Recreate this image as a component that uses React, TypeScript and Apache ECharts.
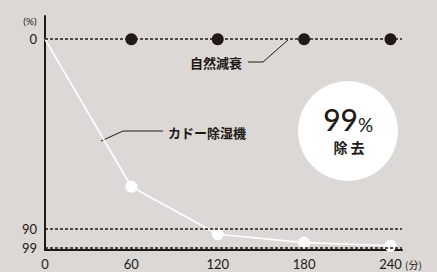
import React, { useEffect, useRef } from "react";
import * as echarts from "echarts";

const X_VALUES = [0, 60, 120, 180, 240];
const CADO_VALUES = [0, 70, 92.5, 96.5, 98];
const NATURAL_X = [60, 120, 180, 240];
const NATURAL_VALUES = [0, 0, 0, 0];
const X_TICKS = [0, 60, 120, 180, 240];
const Y_TICKS = [0, 90, 99];
const GUIDE_LEVELS = [0, 90, 99];
const NATURAL_NAME = "自然減衰";
const CADO_NAME = "カドー除湿機";

const DARK = "#231815";
const BG = "#dbd8d5";
const FONT = 'Lato, "Noto Sans CJK JP", sans-serif';
const JP = '"Noto Sans CJK JP", sans-serif';

export default function App() {
  const ref = useRef<HTMLDivElement>(null);
  useEffect(() => {
    if (!ref.current) return;
    const chart = echarts.init(ref.current, null, { renderer: "svg" });
    const cadoData = X_VALUES.map((x, i) =>
      i === 0 ? { value: [x, CADO_VALUES[i]], symbol: "none" } : { value: [x, CADO_VALUES[i]] }
    );
    const naturalData = NATURAL_X.map((x, i) => [x, NATURAL_VALUES[i]]);
    chart.setOption({
      animation: false,
      backgroundColor: BG,
      grid: { left: 45, right: 35, top: 16, bottom: 22, containLabel: false },
      xAxis: {
        type: "value",
        min: 0,
        max: 248,
        interval: 60,
        axisLine: { show: true, onZero: false, lineStyle: { color: DARK, width: 2 } },
        axisTick: { show: false },
        splitLine: { show: false },
        axisLabel: {
          customValues: X_TICKS,
          color: DARK,
          fontSize: 13,
          margin: 7,
          fontFamily: FONT,
        },
      },
      yAxis: {
        type: "value",
        inverse: true,
        min: -11,
        max: 100,
        axisLine: { show: true, onZero: false, lineStyle: { color: DARK, width: 2 } },
        axisTick: { show: false },
        splitLine: { show: false },
        axisLabel: {
          customValues: Y_TICKS,
          color: DARK,
          fontSize: 13,
          margin: 8,
          fontFamily: FONT,
        },
      },
      series: [
        {
          type: "line",
          name: "guides",
          data: [],
          z: 1,
          markLine: {
            silent: true,
            symbol: "none",
            label: { show: false },
            lineStyle: { color: DARK, width: 1.6, type: [3, 2], opacity: 1 },
            data: GUIDE_LEVELS.map((v) => ({ yAxis: v })),
          },
        },
        {
          type: "line",
          name: CADO_NAME,
          data: cadoData,
          z: 3,
          symbol: "circle",
          symbolSize: 12,
          lineStyle: { color: "#ffffff", width: 1.6 },
          itemStyle: { color: "#ffffff", borderColor: "#ffffff", borderWidth: 0, opacity: 1 },
        },
        {
          type: "scatter",
          name: NATURAL_NAME,
          data: naturalData,
          z: 4,
          symbolSize: 12,
          itemStyle: { color: DARK, opacity: 1 },
        },
      ],
      graphic: [
        {
          type: "text",
          x: 30,
          y: 21,
          style: { text: "(%)", fill: DARK, font: `10px ${FONT}`, align: "center", verticalAlign: "middle" },
        },
        {
          type: "text",
          x: 405,
          y: 264,
          style: { text: "(分)", fill: DARK, font: `10px ${JP}`, align: "left", verticalAlign: "middle" },
        },
        {
          type: "text",
          x: 190,
          y: 62.5,
          style: { text: NATURAL_NAME, fill: DARK, font: `bold 13px ${JP}`, align: "left", verticalAlign: "middle" },
        },
        {
          type: "polyline",
          shape: { points: [[248, 62], [263, 62], [288, 40]] },
          style: { stroke: DARK, lineWidth: 1, fill: null },
        },
        {
          type: "text",
          x: 168,
          y: 132.5,
          style: { text: CADO_NAME, fill: DARK, font: `bold 13px ${JP}`, align: "left", verticalAlign: "middle" },
        },
        {
          type: "polyline",
          shape: { points: [[101, 141], [123, 131], [163, 131]] },
          style: { stroke: DARK, lineWidth: 1, fill: null },
        },
        {
          type: "circle",
          shape: { cx: 348, cy: 131, r: 50 },
          style: { fill: "#ffffff" },
        },
        {
          type: "text",
          x: 358,
          y: 119,
          style: { text: "99", fill: DARK, font: `500 30px ${FONT}`, align: "right", verticalAlign: "middle" },
        },
        {
          type: "text",
          x: 358,
          y: 124,
          style: { text: "%", fill: DARK, font: `400 19px ${FONT}`, align: "left", verticalAlign: "middle" },
        },
        {
          type: "text",
          x: 349,
          y: 147,
          style: { text: "除 去", fill: DARK, font: `bold 14px ${JP}`, align: "center", verticalAlign: "middle" },
        },
      ],
    });
    return () => chart.dispose();
  }, []);
  return (
    <div
      ref={ref}
      style={{ position: "fixed", left: 0, top: 0, width: 437, height: 272 }}
    />
  );
}
